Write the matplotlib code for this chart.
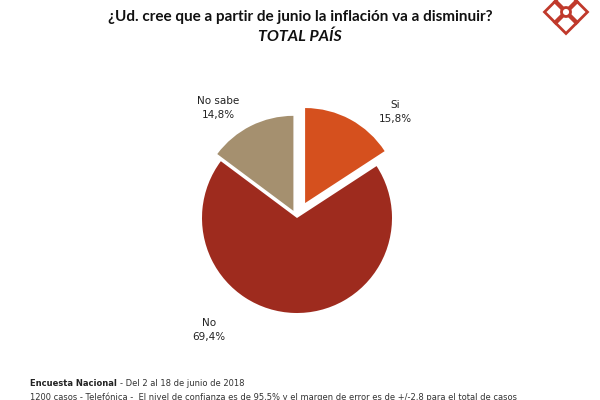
import matplotlib
matplotlib.use("Agg")
import matplotlib.pyplot as plt
from matplotlib.patches import Rectangle, Circle
import matplotlib.transforms as mtransforms

# datos de la encuesta
labels = ["Si", "No", "No sabe"]
values = [15.8, 69.4, 14.8]
pct_labels = ["15,8%", "69,4%", "14,8%"]
colors = ["#D5501E", "#9E2B1E", "#A5906F"]
explode = [0.17, 0.0, 0.08]

fig = plt.figure(figsize=(6, 4), dpi=100)
fig.patch.set_facecolor("white")

# pie centrado en (297, 218) px, radio ~95 px
ax = fig.add_axes([0.245, 0.08, 0.5, 0.75])
ax.pie(values, colors=colors, explode=explode, startangle=90, counterclock=False,
       radius=0.95, wedgeprops=dict(linewidth=0))
ax.set_xlim(-1.5, 1.5)
ax.set_ylim(-1.5, 1.5)
ax.set_aspect("equal")
ax.axis("off")

# etiquetas
lbl_pos = {"Si": (395, 112), "No": (209, 330), "No sabe": (218, 108)}
for lab, pct in zip(labels, pct_labels):
    x, y = lbl_pos[lab]
    fig.text(x / 600, 1 - y / 400, lab + "\n" + pct, ha="center", va="center",
             fontsize=7.5, color="#222222", family="DejaVu Sans", linespacing=1.6)

# titulo
fig.text(0.5, 1 - 17 / 400, "¿Ud. cree que a partir de junio la inflación va a disminuir?",
         ha="center", va="center", fontsize=11, fontweight="bold", family="Lato", color="#111111")
fig.text(0.5, 1 - 37 / 400, "TOTAL PAÍS", ha="center", va="center", fontsize=11.5,
         fontweight="bold", fontstyle="italic", family="Lato", color="#111111")

# pie de pagina
fig.text(30 / 600, 1 - 383 / 400, "Encuesta Nacional", ha="left", va="center",
         fontsize=6, fontweight="bold", family="DejaVu Sans", color="#222222")
fig.text(120 / 600, 1 - 383 / 400, "- Del 2 al 18 de junio de 2018", ha="left", va="center",
         fontsize=6, family="DejaVu Sans", color="#333333")
fig.text(30 / 600, 1 - 397 / 400,
         "1200 casos - Telefónica -  El nivel de confianza es de 95,5% y el margen de error es de +/-2,8 para el total de casos",
         ha="left", va="center", fontsize=6, family="DejaVu Sans", color="#333333")

# logo (cuadrados rotados)
lax = fig.add_axes([530 / 600, 1 - 40 / 400, 70 / 600, 40 / 400])
lax.set_xlim(530, 600)
lax.set_ylim(40, 0)
lax.axis("off")
cx, cy, s = 566, 12, 16
rot = mtransforms.Affine2D().rotate_deg_around(cx, cy, 45) + lax.transData
for (dx, dy) in [(-0.5, -0.5), (0.5, -0.5), (-0.5, 0.5), (0.5, 0.5)]:
    x0 = cx + dx * s * 0.9 - s / 2
    y0 = cy + dy * s * 0.9 - s / 2
    lax.add_patch(Rectangle((x0, y0), s, s, fill=False, edgecolor="#C0392B",
                            linewidth=2, transform=rot, clip_on=False))
lax.add_patch(Circle((cx, cy), 4.5, facecolor="white", edgecolor="#C0392B", linewidth=2))

fig.savefig("out.png", dpi=100)
